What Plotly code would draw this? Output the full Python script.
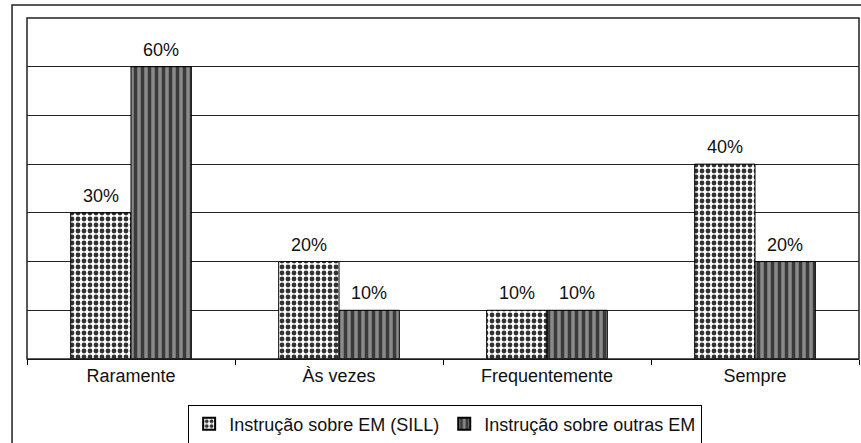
import plotly.graph_objects as go

categories = ["Raramente", "Às vezes", "Frequentemente", "Sempre"]
sill_values = [30, 20, 10, 40]
outras_values = [60, 10, 10, 20]
series_names = ["Instrução sobre EM (SILL)", "Instrução sobre outras EM"]

FONT = "Liberation Sans, Arial, sans-serif"
FS = 18
BAR_HALF = 30  # pixel offset of each bar centre from its category centre

fig = go.Figure()

fig.add_trace(go.Bar(
    x=categories, y=sill_values, name=series_names[0],
    marker=dict(
        color="white",
        line=dict(color="black", width=1),
        pattern=dict(shape=".", fgcolor="#333333", bgcolor="white",
                     size=6, solidity=0.5, fillmode="replace"),
    ),
))

fig.add_trace(go.Bar(
    x=categories, y=outras_values, name=series_names[1],
    marker=dict(
        color="#8a8a8a",
        line=dict(color="black", width=1),
        pattern=dict(shape="|", fgcolor="#3a3a3a", bgcolor="#8a8a8a",
                     size=7, solidity=0.5, fillmode="replace"),
    ),
))

# value labels above each bar
annotations = []
for vals, shift in ((sill_values, -BAR_HALF), (outras_values, BAR_HALF)):
    for cat, v in zip(categories, vals):
        annotations.append(dict(
            x=cat, y=v, xref="x", yref="y", text=f"{v}%", showarrow=False,
            xshift=shift, yshift=5, yanchor="bottom",
            font=dict(size=FS, color="#111"),
        ))

fig.update_layout(
    width=861, height=443,
    margin=dict(l=27, r=2, t=18, b=84, autoexpand=False),
    paper_bgcolor="white", plot_bgcolor="white",
    font=dict(family=FONT, size=FS, color="#111"),
    barmode="group", bargap=0.42, bargroupgap=0,
    showlegend=True,
    legend=dict(
        orientation="h", x=0.517, xanchor="center", xref="container",
        y=1 - 424 / 443, yanchor="middle", yref="container",
        bordercolor="black", borderwidth=1, bgcolor="white",
        font=dict(size=FS), tracegroupgap=0, itemsizing="constant",
    ),
    xaxis=dict(
        type="category", showline=True, linecolor="black", linewidth=1,
        ticks="outside", tickson="boundaries", ticklen=5, tickcolor="black",
        showgrid=False, tickfont=dict(size=FS),
    ),
    yaxis=dict(
        range=[0, 70], dtick=10, showticklabels=False, ticks="",
        showgrid=True, gridcolor="#222", gridwidth=1,
        zeroline=False, showline=False,
    ),
    annotations=annotations,
    shapes=[
        # plot area frame
        dict(type="rect", xref="paper", yref="paper", x0=0, x1=1, y0=0, y1=1,
             line=dict(color="#222", width=1.5), layer="above"),
        # outer chart frame
        dict(type="rect", xref="paper", yref="paper",
             x0=-0.018, x1=1.2, y0=-0.5, y1=1.038,
             line=dict(color="#222", width=1.5), layer="above"),
    ],
)

fig.write_html("out.html")
